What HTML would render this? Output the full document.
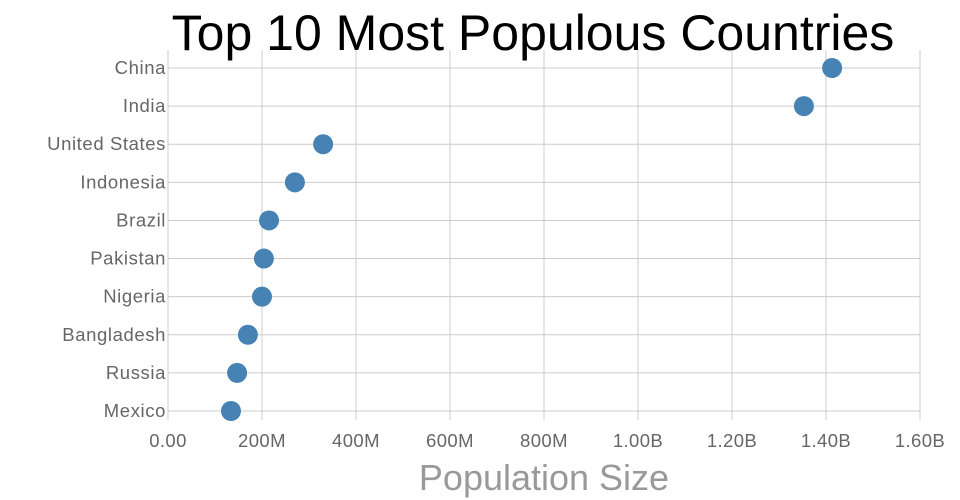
<!DOCTYPE html>
<html><head><meta charset="utf-8"><style>
body{margin:0;background:#fff;}
svg{display:block;font-family:"Liberation Sans",sans-serif;}
</style></head><body>
<svg id="chart" width="960" height="500">
<text x="533" y="50" text-anchor="middle" font-size="50" fill="#000">Top 10 Most Populous Countries</text>
<g id="grid"></g><g id="yaxis"></g><g id="xaxis"></g><g id="dots"></g>
<text x="544" y="490" text-anchor="middle" font-size="36" fill="#999">Population Size</text>
</svg>
<script>
const categories=["China","India","United States","Indonesia","Brazil","Pakistan","Nigeria","Bangladesh","Russia","Mexico"];
const populations=[1.413e9,1.353e9,0.330e9,0.270e9,0.215e9,0.204e9,0.200e9,0.170e9,0.147e9,0.134e9];
const tickValues=[0,0.2e9,0.4e9,0.6e9,0.8e9,1.0e9,1.2e9,1.4e9,1.6e9];
const tickLabels=["0.00","200M","400M","600M","800M","1.00B","1.20B","1.40B","1.60B"];
const NS="http://www.w3.org/2000/svg";
const x0=168,x1=920,yTop=68,yBot=411,gTop=50,gBot=420;
const xs=v=>x0+(v/1.6e9)*(x1-x0);
const ys=i=>yTop+i*(yBot-yTop)/(categories.length-1);
function mk(t,a,p){const e=document.createElementNS(NS,t);for(const k in a)e.setAttribute(k,a[k]);p.appendChild(e);return e;}
const grid=document.getElementById('grid'),ya=document.getElementById('yaxis'),xa=document.getElementById('xaxis'),dots=document.getElementById('dots');
tickValues.forEach((v,i)=>{
 const l=mk('line',{x1:xs(v),x2:xs(v),y1:gTop,y2:gBot,stroke:'#ccc','stroke-width':1},grid);
 
 
 const t=mk('text',{x:xs(v),y:447,'text-anchor':'middle','font-size':18.5,'letter-spacing':0.4,fill:'#666'},xa);
 t.textContent=tickLabels[i];
 
 
});
categories.forEach((c,i)=>{
 const l=mk('line',{x1:x0,x2:x1,y1:ys(i),y2:ys(i),stroke:'#ccc','stroke-width':1},grid);
 
 
 const t=mk('text',{x:166,y:ys(i)+6,'text-anchor':'end','font-size':18.5,'letter-spacing':0.6,fill:'#666'},ya);
 t.textContent=c;
 
 
 const d=mk('circle',{cx:xs(populations[i]),cy:ys(i),r:10,fill:'#4682b4'},dots);
 
 
});
</script>
</body></html>
